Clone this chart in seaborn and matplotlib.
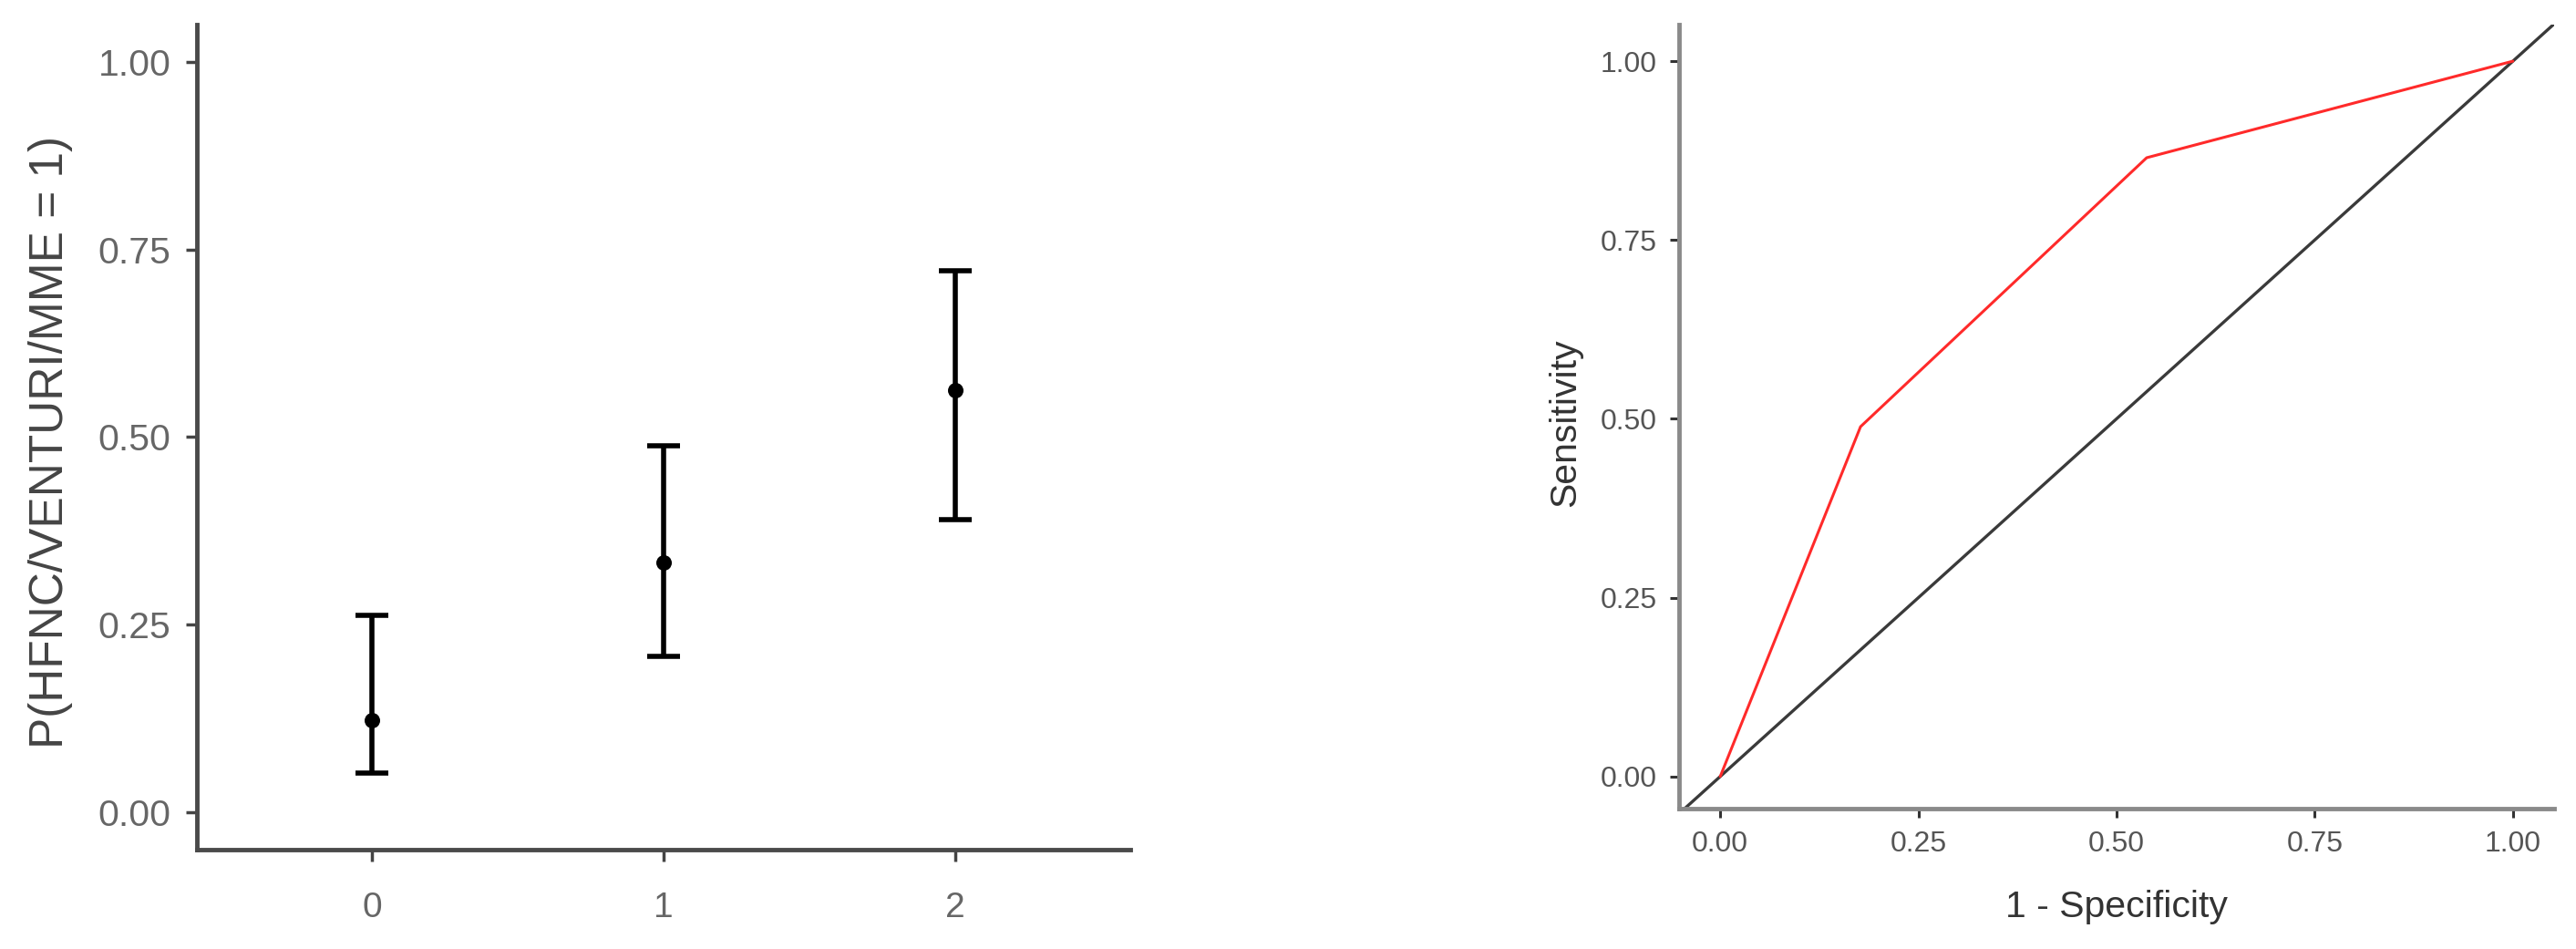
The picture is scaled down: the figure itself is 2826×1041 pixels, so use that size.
import matplotlib
matplotlib.use('Agg')
import matplotlib.pyplot as plt
import seaborn as sns
import pandas as pd
import numpy as np

# ── data ───────────────────────────────────────────────────────────────────
groups = ['0', '1', '2']
p_mean = [0.122, 0.333, 0.562]
p_low = [0.052, 0.208, 0.390]
p_high = [0.262, 0.488, 0.722]

roc_fpr = [0.0, 0.177, 0.538, 1.0]
roc_tpr = [0.0, 0.489, 0.865, 1.0]

sns.set_style('ticks')
plt.rcParams['font.family'] = ['Liberation Sans', 'DejaVu Sans']

fig = plt.figure(figsize=(28.26, 10.41), dpi=100)
ax1 = fig.add_axes([0.0764, 0.1047, 0.3624, 0.8694])
ax2 = fig.add_axes([0.6518, 0.1479, 0.3397, 0.8261])

# ── left: predicted probability with CI ────────────────────────────────────
df = pd.DataFrame({'group': groups, 'p': p_mean, 'lo': p_low, 'hi': p_high})
xpos = np.arange(len(groups))
ax1.errorbar(xpos, df['p'], yerr=[df['p'] - df['lo'], df['hi'] - df['p']],
             fmt='none', ecolor='black', elinewidth=4.0, capsize=13, capthick=4.0, zorder=2)
sns.scatterplot(x=xpos, y=df['p'], ax=ax1, color='black', s=150, linewidth=0, zorder=3)
ax1.set_xticks(xpos)
ax1.set_xticklabels(groups)
ax1.set_xlim(-0.6, 2.6)
ax1.set_ylim(-0.05, 1.05)
ax1.set_yticks([0, 0.25, 0.5, 0.75, 1.0])
ax1.set_yticklabels(['0.00', '0.25', '0.50', '0.75', '1.00'])
ax1.set_xlabel('')
ax1.set_ylabel('P(HFNC/VENTURI/MME = 1)', fontsize=37, color='#444444', va='center')
ax1.yaxis.set_label_coords(-0.157, 0.494)
ax1.tick_params(axis='y', labelsize=29.5, length=9, width=2.5, pad=11.5,
                colors='#444444', labelcolor='#666666')
ax1.tick_params(axis='x', labelsize=28, length=9, width=2.5, pad=24,
                colors='#444444', labelcolor='#666666')
for s in ['left', 'bottom']:
    ax1.spines[s].set_linewidth(3.5)
    ax1.spines[s].set_color('#4a4a4a')
sns.despine(ax=ax1)

# ── right: ROC curve ───────────────────────────────────────────────────────
ax2.axline((0, 0), slope=1, color='#3a3a3a', linewidth=2.4, zorder=2)
sns.lineplot(x=roc_fpr, y=roc_tpr, ax=ax2, sort=False, color='#ff2a2a',
             linewidth=2.2, zorder=3)
ax2.set_xlim(-0.052, 1.052)
ax2.set_ylim(-0.045, 1.051)
ticks = [0, 0.25, 0.5, 0.75, 1.0]
tlabels = ['0.00', '0.25', '0.50', '0.75', '1.00']
ax2.set_xticks(ticks)
ax2.set_xticklabels(tlabels)
ax2.set_yticks(ticks)
ax2.set_yticklabels(tlabels)
ax2.set_xlabel('1 - Specificity', fontsize=29.5, color='#333333', va='center')
ax2.set_ylabel('Sensitivity', fontsize=29.5, color='#333333', va='center')
ax2.xaxis.set_label_coords(0.5, -0.125)
ax2.yaxis.set_label_coords(-0.130, 0.492)
ax2.tick_params(axis='both', labelsize=23, length=7, width=2.2, pad=10.5,
                colors='#333333', labelcolor='#555555')
for s in ['left', 'bottom']:
    ax2.spines[s].set_linewidth(3.5)
    ax2.spines[s].set_color('#8a8a8a')
sns.despine(ax=ax2)

fig.savefig('out.png', dpi=100)
